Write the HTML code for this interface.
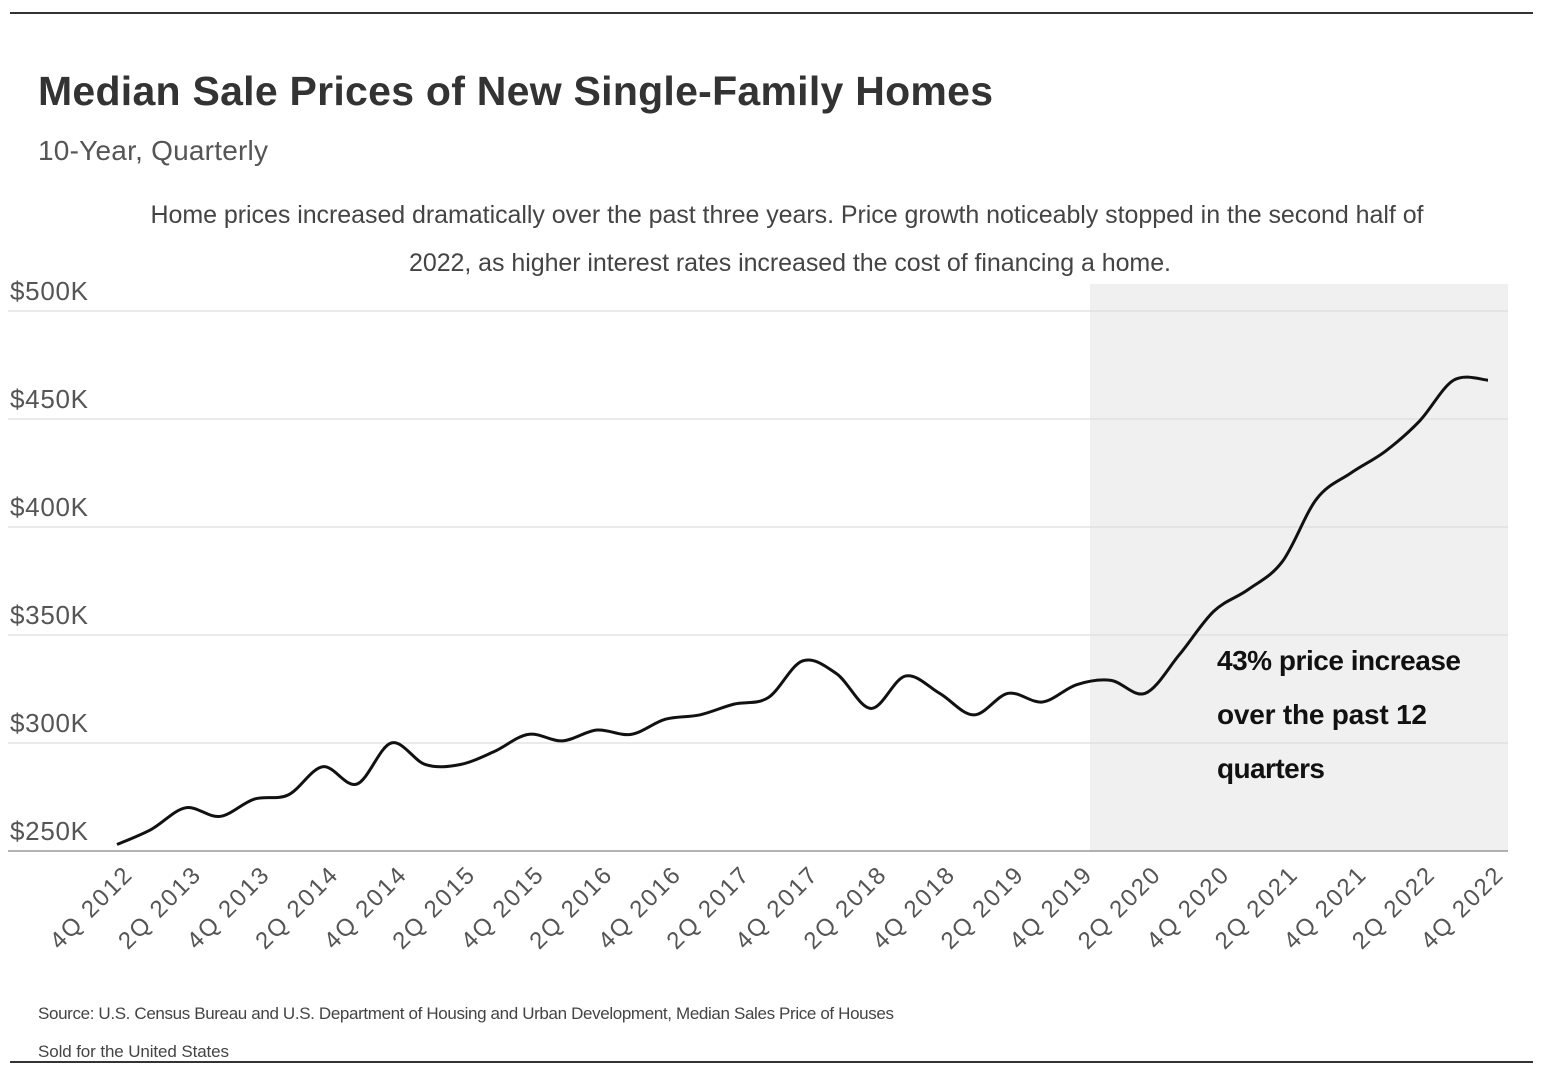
<!DOCTYPE html>
<html><head><meta charset="utf-8">
<style>
html,body{margin:0;padding:0;background:#fff;width:1550px;height:1086px;overflow:hidden;font-family:"Liberation Sans",sans-serif;}
</style></head>
<body>
<svg id="chart" width="1550" height="1086" xmlns="http://www.w3.org/2000/svg" font-family="Liberation Sans, sans-serif">
<line x1="10" y1="13" x2="1533" y2="13" stroke="#333" stroke-width="2"/>
<line x1="10" y1="1062" x2="1533" y2="1062" stroke="#333" stroke-width="2"/>
<text x="38" y="105" font-size="41" font-weight="bold" fill="#333" textLength="955">Median Sale Prices of New Single-Family Homes</text>
<text x="38" y="160" font-size="28" fill="#555" textLength="230">10-Year, Quarterly</text>
<text x="787" y="223" font-size="25" fill="#444" text-anchor="middle" textLength="1273">Home prices increased dramatically over the past three years. Price growth noticeably stopped in the second half of</text>
<text x="790" y="271" font-size="25" fill="#444" text-anchor="middle" textLength="762">2022, as higher interest rates increased the cost of financing a home.</text>
<rect x="1090" y="284" width="418" height="567" fill="#f0f0f0"/>
<g id="grid"></g>
<g id="xlabels"></g>
<path id="line" fill="none" stroke="#111" stroke-width="3"/>
<text x="1217" y="670" font-size="28" font-weight="bold" fill="#111" textLength="244">43% price increase</text>
<text x="1217" y="724" font-size="28" font-weight="bold" fill="#111" textLength="210">over the past 12</text>
<text x="1217" y="778" font-size="28" font-weight="bold" fill="#111" textLength="108">quarters</text>
<text x="38" y="1019" font-size="17" fill="#444" textLength="856">Source:  U.S. Census Bureau and U.S. Department of Housing and Urban Development, Median Sales Price of Houses</text>
<text x="38" y="1057" font-size="17" fill="#444" textLength="191">Sold for the United States</text>
</svg>
<script>
const yTicks=[250,300,350,400,450,500];
const tickLabels=["$250K","$300K","$350K","$400K","$450K","$500K"];
const prices=[253,260,270,266,274,276,289,281,300,290,290,296,304,301,306,304,311,313,318,321,338,332,316,331,323,313,323,319,327,329,323,341,361,371,384,413,425,435,449,468,468];
const quarterLabels=["4Q 2012","2Q 2013","4Q 2013","2Q 2014","4Q 2014","2Q 2015","4Q 2015","2Q 2016","4Q 2016","2Q 2017","4Q 2017","2Q 2018","4Q 2018","2Q 2019","4Q 2019","2Q 2020","4Q 2020","2Q 2021","4Q 2021","2Q 2022","4Q 2022"];
const NS="http://www.w3.org/2000/svg";
const y=v=>851-(v-250)*2.16;
const x=i=>117+i*(1371/(prices.length-1));
const grid=document.getElementById('grid');
yTicks.forEach((t,k)=>{
 const l=document.createElementNS(NS,'line');
 
 
 l.setAttribute('x1',8);l.setAttribute('x2',1508);l.setAttribute('y1',y(t));l.setAttribute('y2',y(t));
 l.setAttribute('stroke',k==0?'#999':'#ddd');l.setAttribute('stroke-width',k==0?1.5:1.2);
 grid.appendChild(l);
 const tx=document.createElementNS(NS,'text');
 
 
 tx.setAttribute('x',10);tx.setAttribute('y',y(t)-11);tx.setAttribute('font-size',26);tx.setAttribute('fill','#555');
 tx.setAttribute('textLength',78);
 tx.textContent=tickLabels[k];grid.appendChild(tx);
});
const xl=document.getElementById('xlabels');
quarterLabels.forEach((q,k)=>{
 const px=x(k*2)+16,py=877;
 const tx=document.createElementNS(NS,'text');
 
 
 tx.setAttribute('x',px);tx.setAttribute('y',py);tx.setAttribute('font-size',24);tx.setAttribute('fill','#555');
 tx.setAttribute('text-anchor','end');tx.setAttribute('textLength',104);
 tx.setAttribute('transform',`rotate(-45 ${px} ${py})`);
 tx.textContent=q;xl.appendChild(tx);
});
const pts=prices.map((v,i)=>[x(i),y(v)]);
let d=`M${pts[0][0]},${pts[0][1]}`;
for(let i=0;i<pts.length-1;i++){
 const p0=pts[Math.max(0,i-1)],p1=pts[i],p2=pts[i+1],p3=pts[Math.min(pts.length-1,i+2)];
 const c1=[p1[0]+(p2[0]-p0[0])/6,p1[1]+(p2[1]-p0[1])/6];
 const c2=[p2[0]-(p3[0]-p1[0])/6,p2[1]-(p3[1]-p1[1])/6];
 d+=` C${c1[0]},${c1[1]} ${c2[0]},${c2[1]} ${p2[0]},${p2[1]}`;
}
document.getElementById('line').setAttribute('d',d);
</script>
</body></html>
